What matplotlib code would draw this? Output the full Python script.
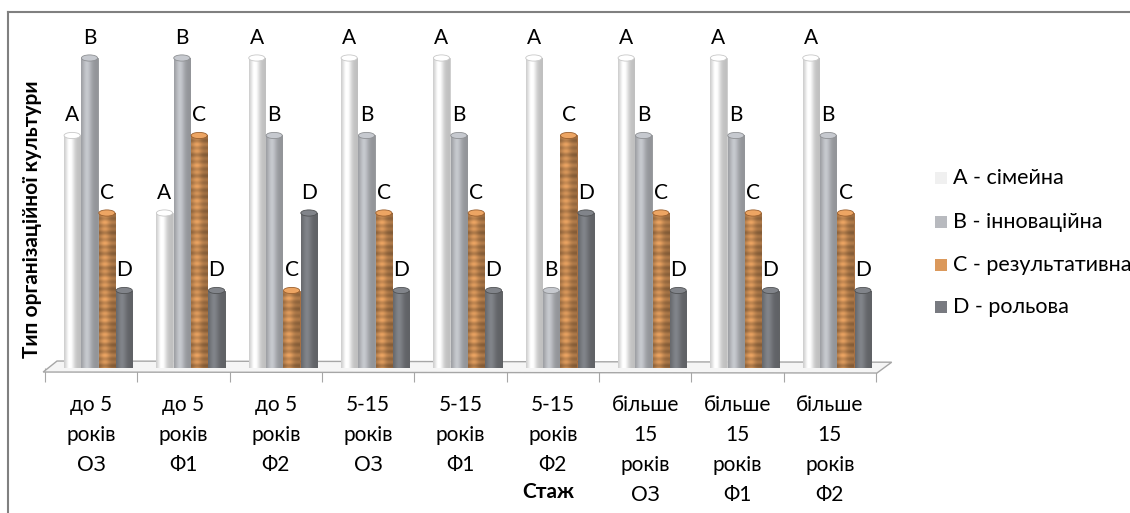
import numpy as np
import matplotlib.pyplot as plt
from matplotlib.patches import Ellipse, Polygon, Rectangle
from matplotlib.lines import Line2D

plt.rcParams['font.family'] = ['Lato', 'DejaVu Sans']

# Data
groups = ['до 5\nроків\nОЗ', 'до 5\nроків\nФ1', 'до 5\nроків\nФ2',
          '5-15\nроків\nОЗ', '5-15\nроків\nФ1', '5-15\nроків\nФ2',
          'більше\n15\nроків\nОЗ', 'більше\n15\nроків\nФ1', 'більше\n15\nроків\nФ2']
series_names = ['A - сімейна', 'B - інноваційна', 'C - результативна', 'D - рольова']
letters = ['A', 'B', 'C', 'D']
vals_a = [3, 2, 4, 4, 4, 4, 4, 4, 4]
vals_b = [4, 4, 3, 3, 3, 1, 3, 3, 3]
vals_c = [2, 3, 1, 2, 2, 3, 2, 2, 2]
vals_d = [1, 1, 2, 1, 1, 2, 1, 1, 1]
series = [vals_a, vals_b, vals_c, vals_d]

base_cols = [(0.94, 0.94, 0.94), (0.72, 0.73, 0.75), (0.86, 0.60, 0.36), (0.47, 0.48, 0.50)]
edge_cols = ['#c8c8c8', '#8e9093', '#9a5f2e', '#505254']

fig = plt.figure(figsize=(11.3, 5.13), dpi=100)
ax = fig.add_axes([45 / 1130, (513 - 368) / 513, 831 / 1130, 341 / 513])

x = np.arange(len(groups))
bw = 0.175
step = 0.188
shift = 0.076
px_unit_y = 77.5  # pixels per value unit


def bar_image(col, h, striped):
    t = np.linspace(0, 1, 40)
    shade = 0.80 + 0.28 * np.exp(-((t - 0.35) / 0.28) ** 2)
    nrows = max(int(h * px_unit_y), 2)
    r = np.arange(nrows)
    if striped:
        rowf = (1 - 0.16 * (0.5 + 0.5 * np.sin(r * 2 * np.pi / 7.0))
                - 0.10 * (0.5 + 0.5 * np.sin(r * 2 * np.pi / 19.0 + 1)))
    else:
        rowf = np.ones(nrows)
    img = np.array(col)[None, None, :] * shade[None, :, None] * rowf[:, None, None]
    return np.clip(img, 0, 1)


for j, vals in enumerate(series):
    xs = x + shift + (j - 1.5) * step
    bars = ax.bar(xs, vals, bw, color=base_cols[j], edgecolor=edge_cols[j], linewidth=0.6, zorder=3)
    for xi, v, b in zip(xs, vals, bars):
        img = bar_image(base_cols[j], v, j == 2)
        im = ax.imshow(img, extent=[xi - bw / 2, xi + bw / 2, 0, v], origin='lower',
                       aspect='auto', interpolation='bilinear', zorder=3.5)
        im.set_clip_path(b)
        cap = Ellipse((xi, v), bw, 0.08, facecolor=np.clip(np.array(base_cols[j]) * 1.08, 0, 1),
                      edgecolor=edge_cols[j], linewidth=0.6, zorder=4)
        ax.add_patch(cap)
        ax.text(xi, v + 0.26, letters[j], ha='center', va='center', fontsize=15, zorder=5)

# 3D-like floor
floor = Polygon([(-0.52, -0.052), (8.51, -0.065), (8.67, 0.075), (-0.37, 0.09)], closed=True,
                facecolor='#f5f5f5', edgecolor='#a6a6a6', linewidth=1.0, zorder=2, clip_on=False)
ax.add_patch(floor)

ax.set_xlim(-0.5, 8.5)
ax.set_ylim(0, 4.4)
for s in ax.spines.values():
    s.set_visible(False)
ax.set_yticks([])
ax.set_xticks(np.arange(-0.5, 9, 1))
ax.set_xticklabels([])
ax.set_xticks(x, minor=True)
ax.set_xticklabels(groups, minor=True, fontsize=15, linespacing=1.62, va='top')
ax.tick_params(axis='x', which='major', length=10, color='#a6a6a6', direction='out')
ax.tick_params(axis='x', which='minor', length=0, pad=19.5)
ax.patch.set_alpha(0)

fig.text(32 / 1130, 1 - 219 / 513, 'Тип організаційної культури', rotation=90,
         ha='center', va='center', fontsize=15, fontweight='bold')
fig.text(548 / 1130, 1 - 492 / 513, 'Стаж', ha='center', va='center', fontsize=15, fontweight='bold')

# Legend
leg_y = [178, 222, 265, 307]
for j, name in enumerate(series_names):
    fig.add_artist(Rectangle((935 / 1130, 1 - (leg_y[j] + 6) / 513), 12 / 1130, 12 / 513,
                             transform=fig.transFigure, facecolor=base_cols[j],
                             edgecolor='none'))
    fig.text(953 / 1130, 1 - leg_y[j] / 513, name, ha='left', va='center', fontsize=15.5)

# Frame
fig.add_artist(Line2D([8 / 1130, 1], [1 - 12 / 513, 1 - 12 / 513], color='#808080', linewidth=1.5))
fig.add_artist(Line2D([8 / 1130, 8 / 1130], [0, 1 - 12 / 513], color='#808080', linewidth=1.5))

fig.savefig('out.png', dpi=100)
